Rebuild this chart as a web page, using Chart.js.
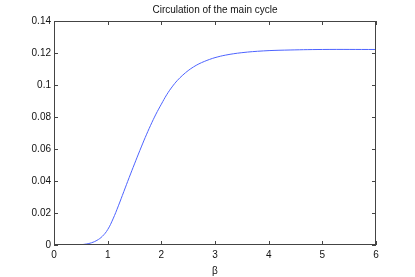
<!DOCTYPE html>
<html>
<head>
<meta charset="utf-8">
<script src="https://cdn.jsdelivr.net/npm/chart.js@4.4.0/dist/chart.umd.min.js"></script>
<style>
  html, body { margin: 0; padding: 0; background: #fff; }
  #wrap { width: 415px; height: 277px; }
</style>
</head>
<body>
<div id="wrap"><canvas id="circChart" width="415" height="277"></canvas></div>
<script>
// Data
const betaValues = [0, 0.4, 0.5, 0.6, 0.7, 0.8, 0.9, 1.0, 1.1, 1.2, 1.3, 1.4, 1.5, 1.6, 1.7, 1.8, 1.9, 2.0, 2.1, 2.2, 2.3, 2.4, 2.5, 2.6, 2.7, 2.8, 2.9, 3.0, 3.2, 3.5, 3.9, 4.3, 5.0, 6.0];
const circulation = [0, 0, 0.0002, 0.0006, 0.0014, 0.0029, 0.0054, 0.0096, 0.0163, 0.0245, 0.0333, 0.0421, 0.0507, 0.0591, 0.0672, 0.0748, 0.0818, 0.088, 0.0939, 0.0988, 0.1029, 0.1062, 0.109, 0.1113, 0.1132, 0.1147, 0.116, 0.1171, 0.1187, 0.1202, 0.1213, 0.1218, 0.1222, 0.1222];
const xTicks = [0, 1, 2, 3, 4, 5, 6];
const yTicks = [0, 0.02, 0.04, 0.06, 0.08, 0.1, 0.12, 0.14];

const points = betaValues.map((b, i) => ({ x: b, y: circulation[i] }));
const fontFamily = '"Liberation Sans", Arial, sans-serif';

// Box around the axes with inward tick marks (MATLAB look)
const boxTicks = {
  id: 'boxTicks',
  afterDraw(chart) {
    const { ctx, chartArea: a, scales } = chart;
    const tl = 4;
    ctx.save();
    ctx.strokeStyle = '#444';
    ctx.lineWidth = 1;
    ctx.strokeRect(a.left + 0.5, a.top + 0.5, a.right - a.left - 1, a.bottom - a.top - 1);
    ctx.beginPath();
    xTicks.forEach(v => {
      const px = Math.round(scales.x.getPixelForValue(v)) + 0.5;
      ctx.moveTo(px, a.bottom); ctx.lineTo(px, a.bottom - tl);
      ctx.moveTo(px, a.top); ctx.lineTo(px, a.top + tl);
    });
    yTicks.forEach(v => {
      const py = Math.round(scales.y.getPixelForValue(v)) + 0.5;
      ctx.moveTo(a.left, py); ctx.lineTo(a.left + tl, py);
      ctx.moveTo(a.right, py); ctx.lineTo(a.right - tl, py);
    });
    ctx.stroke();
    ctx.restore();
  }
};

const ctx = document.getElementById('circChart').getContext('2d');
new Chart(ctx, {
  type: 'line',
  data: {
    datasets: [{
      data: points,
      borderColor: '#4d63ff',
      borderWidth: 1,
      pointRadius: 0,
      fill: false,
      tension: 0.4
    }]
  },
  options: {
    responsive: false,
    animation: false,
    layout: { padding: { left: 0, right: 39, top: 0, bottom: 0 } },
    plugins: {
      legend: { display: false },
      tooltip: { enabled: false },
      title: {
        display: true,
        text: 'Circulation of the main cycle',
        color: '#111',
        fullSize: false,
        font: { family: fontFamily, size: 10, weight: 'normal' },
        padding: { top: 4, bottom: 5 }
      }
    },
    scales: {
      x: {
        type: 'linear',
        min: 0, max: 6,
        afterBuildTicks: s => { s.ticks = xTicks.map(v => ({ value: v })); },
        afterFit: s => { s.height = 32; },
        grid: { display: false, drawTicks: false },
        border: { display: false },
        ticks: {
          color: '#111',
          padding: 4,
          maxRotation: 0,
          font: { family: fontFamily, size: 10 },
          callback: v => String(v)
        },
        title: {
          display: true,
          text: 'β',
          color: '#111',
          padding: { top: 0, bottom: 0 },
          font: { family: fontFamily, size: 10 }
        }
      },
      y: {
        min: 0, max: 0.14,
        afterBuildTicks: s => { s.ticks = yTicks.map(v => ({ value: v })); },
        afterFit: s => { s.width = 54; },
        grid: { display: false, drawTicks: false },
        border: { display: false },
        ticks: {
          color: '#111',
          padding: 3,
          font: { family: fontFamily, size: 10 },
          callback: v => String(+Number(v).toFixed(2))
        }
      }
    }
  },
  plugins: [boxTicks]
});
</script>
</body>
</html>
